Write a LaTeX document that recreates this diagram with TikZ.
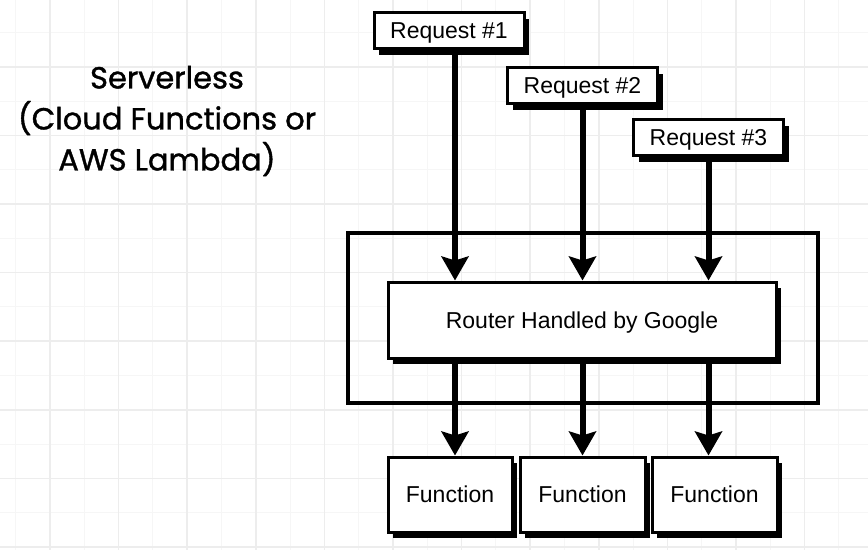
\documentclass[tikz,border=0pt]{standalone}
\usepackage{fontspec}
\setmainfont{Liberation Sans}
\newfontfamily\titlefont[FakeBold=1.2]{Poppins}
\usetikzlibrary{arrows.meta, positioning, shadows}
\definecolor{GridMajor}{HTML}{EDEDED}
\definecolor{GridMinor}{HTML}{F6F6F6}

\tikzset{
  box/.style={draw=black, line width=3pt, fill=white, inner sep=0pt,
    font=\fontsize{23}{27}\selectfont, text depth=0pt,
    general shadow={fill=black, shadow xshift=5pt, shadow yshift=-6pt}},
  reqbox/.style={box, minimum width=150pt, minimum height=36pt},
  fnbox/.style={box, minimum width=124pt, minimum height=75pt},
  flow/.style={line width=6pt, -{Stealth[length=24pt, width=27pt, inset=4pt]}},
}

\begin{document}
\begin{tikzpicture}[x=1pt, y=-1pt]
  \useasboundingbox (0,0) rectangle (868,550);
  \fill[white] (0,0) rectangle (868,550);
  % grid paper
  \foreach \i [evaluate=\i as \x using -18.6+34.3*\i] in {0,...,26}
    \draw[GridMinor, line width=1pt] (\x,0) -- (\x,550);
  \foreach \j [evaluate=\j as \y using -1.8+34.3*\j] in {0,...,16}
    \draw[GridMinor, line width=1pt] (0,\y) -- (868,\y);
  \foreach \i [evaluate=\i as \x using -18.6+68.6*\i] in {0,...,13}
    \draw[GridMajor, line width=1.5pt] (\x,0) -- (\x,550);
  \foreach \j [evaluate=\j as \y using -1.8+68.6*\j] in {0,...,8}
    \draw[GridMajor, line width=1.5pt] (0,\y) -- (868,\y);

  % title
  \node[font=\titlefont\fontsize{30.5}{41}\selectfont, align=center] (title) at (167,121)
    {Serverless\\(Cloud Functions or\\AWS Lambda)};

  % google side
  \node[draw=black, line width=4pt, minimum width=470pt, minimum height=170pt] (platform) at (583,318) {};
  \node[box, minimum width=388pt, minimum height=76pt] (router) at (582,320) {Router Handled by Google};

  \node[reqbox] (req1) at (449,30.5) {Request \#1};
  \node[reqbox] (req2) at (582.5,85.5) {Request \#2};
  \node[reqbox] (req3) at (708.5,137.5) {Request \#3};

  \node[fnbox] (fn1) at (450,494.5) {Function};
  \node[fnbox, minimum width=125pt] (fn2) at (582.5,494.5) {Function};
  \node[fnbox, minimum width=125pt] (fn3) at (714.5,494.5) {Function};

  % arrows in
  \draw[flow] ([xshift=6pt]req1.south) -- ([xshift=6pt]req1.south |- router.north);
  \draw[flow] (req2.south) -- (req2.south |- router.north);
  \draw[flow] (req3.south) -- (req3.south |- router.north);
  % arrows out
  \draw[flow] ([xshift=5pt]fn1.north |- router.south) -- ([xshift=5pt]fn1.north);
  \draw[flow] (fn2.north |- router.south) -- (fn2.north);
  \draw[flow] ([xshift=-6pt]fn3.north |- router.south) -- ([xshift=-6pt]fn3.north);
\end{tikzpicture}
\end{document}
